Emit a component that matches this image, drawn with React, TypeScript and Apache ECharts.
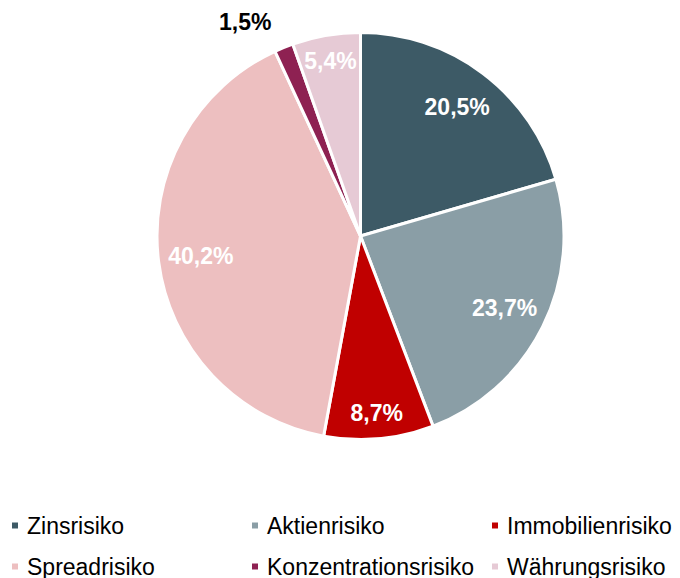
import React, { useEffect, useRef } from "react";
import * as echarts from "echarts";

const categories = [
  "Zinsrisiko",
  "Aktienrisiko",
  "Immobilienrisiko",
  "Spreadrisiko",
  "Konzentrationsrisiko",
  "Währungsrisiko",
];
const shares = [20.5, 23.7, 8.7, 40.2, 1.5, 5.4];
const sliceColors = ["#3D5A66", "#8A9EA6", "#C00000", "#EDBFC0", "#8E2152", "#E6CAD5"];

const legendColumns = [
  ["Zinsrisiko", "Spreadrisiko"],
  ["Aktienrisiko", "Konzentrationsrisiko"],
  ["Immobilienrisiko", "Währungsrisiko"],
];

const FONT = 'Arial, "Liberation Sans", sans-serif';
const fmt = (v: number) => v.toFixed(1).replace(".", ",") + "%";

// which labels sit on which ring (layout choice)
const midRingLabels = ["Zinsrisiko", "Aktienrisiko", "Spreadrisiko"];
const outerRingLabels = ["Immobilienrisiko", "Währungsrisiko"];
const outsideLabels = ["Konzentrationsrisiko"];

export default function App() {
  const ref = useRef<HTMLDivElement>(null);
  useEffect(() => {
    if (!ref.current) return;
    const chart = echarts.init(ref.current, null, { renderer: "svg" });
    const center = [360.5, 236];

    const baseData = categories.map((name, i) => ({
      name,
      value: shares[i],
      itemStyle: { color: sliceColors[i] },
    }));

    const labelData = (showList: string[], outside: string[] = []) =>
      categories.map((name, i) => {
        const isOut = outside.includes(name);
        const show = showList.includes(name) || isOut;
        return {
          name,
          value: shares[i],
          label: isOut
            ? {
                show: true,
                position: "outside",
                color: "#000",
                distanceToLabelLine: 0,
              }
            : { show },
          labelLine: { show: false, length: 28, length2: 2 },
        };
      });

    const labelSeriesCommon = {
      type: "pie",
      center,
      startAngle: 90,
      clockwise: true,
      silent: true,
      avoidLabelOverlap: false,
      itemStyle: { color: "transparent", borderWidth: 0 },
      emphasis: { disabled: true },
      labelLine: { show: false },
      label: {
        position: "inside",
        color: "#fff",
        fontFamily: FONT,
        fontWeight: "bold",
        fontSize: 23,
        formatter: (p: any) => fmt(p.value),
      },
    };

    chart.setOption({
      animation: false,
      backgroundColor: "#fff",
      legend: legendColumns.map((col, k) => ({
        type: "plain",
        orient: "vertical",
        left: 10 + k * 240,
        top: 514,
        height: 120,
        width: 240,
        padding: 0,
        data: col,
        icon: "rect",
        itemWidth: 8,
        itemHeight: 8,
        itemGap: 18,
        selectedMode: false,
        textStyle: {
          fontFamily: FONT,
          fontSize: 23,
          lineHeight: 22,
          color: "#000",
          padding: [0, 0, 0, 3],
        },
      })),
      series: [
        {
          type: "pie",
          center,
          radius: [0, 203.5],
          startAngle: 90,
          clockwise: true,
          silent: true,
          itemStyle: { borderColor: "#fff", borderWidth: 3 },
          label: { show: false },
          labelLine: { show: false },
          emphasis: { disabled: true },
          data: baseData,
        },
        {
          ...labelSeriesCommon,
          radius: [113, 203],
          data: labelData(midRingLabels),
        },
        {
          ...labelSeriesCommon,
          radius: [147, 203],
          data: labelData(outerRingLabels, outsideLabels),
        },
      ],
    });
    return () => chart.dispose();
  }, []);
  return (
    <div
      ref={ref}
      style={{ position: "absolute", left: 0, top: 0, width: 680, height: 578 }}
    />
  );
}
